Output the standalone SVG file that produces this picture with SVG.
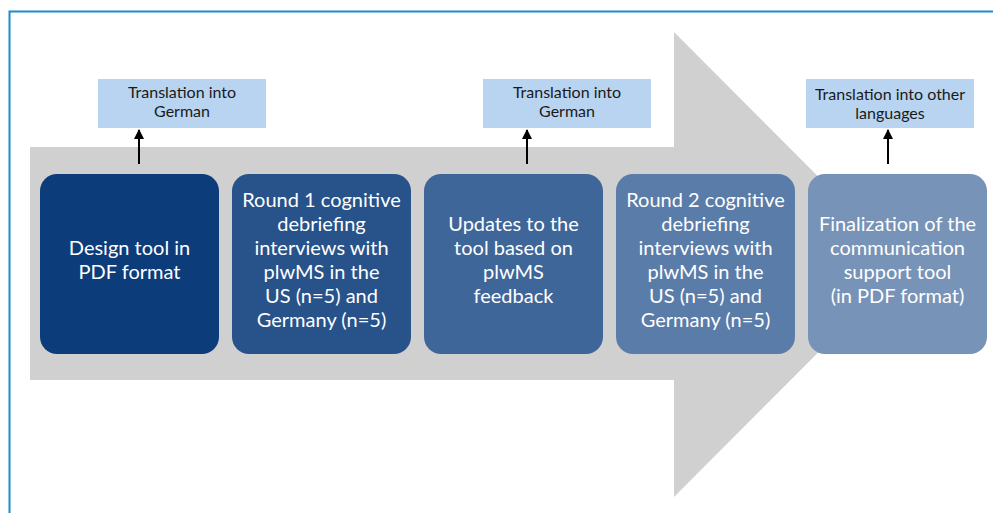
<svg xmlns="http://www.w3.org/2000/svg" width="993" height="513" viewBox="0 0 993 513">
  <defs>
    <marker id="head" viewBox="0 0 10 10" refX="9" refY="5" markerWidth="10" markerHeight="10" markerUnits="userSpaceOnUse" orient="auto">
      <path d="M0,0 L10,5 L0,10 Z" fill="#000"/>
    </marker>
    <style>
      .step { stroke: none; }
      .step-text { font-family: Lato, "Open Sans", sans-serif; font-size: 20px; fill: #ffffff; text-anchor: middle; }
      .note { fill: #b8d4f0; }
      .note-text { font-family: Lato, "Open Sans", sans-serif; font-size: 16px; fill: #1a1a1a; text-anchor: middle; }
      .conn { stroke: #000; stroke-width: 2; fill: none; }
    </style>
  </defs>

  <rect x="0" y="0" width="993" height="513" fill="#ffffff"/>
  <!-- frame -->
  <path d="M9.5,513 L9.5,11.5 L993,11.5" fill="none" stroke="#1f8ac9" stroke-width="2"/>

  <!-- big grey process arrow -->
  <path d="M30,147 L674,147 L674,32 L906,264.5 L674,497 L674,380 L30,380 Z" fill="#d0d0d0"/>

  <g id="step1">
    <rect class="step" x="40" y="174" width="179" height="180" rx="17" fill="#0d3c7b"/>
    <text class="step-text"><tspan x="129.5" y="255">Design tool in</tspan><tspan x="129.5" y="279">PDF format</tspan></text>
  </g>
  <g id="step2">
    <rect class="step" x="232" y="174" width="179" height="180" rx="17" fill="#27528a"/>
    <text class="step-text"><tspan x="321.5" y="207">Round 1 cognitive</tspan><tspan x="321.5" y="231">debriefing</tspan><tspan x="321.5" y="255">interviews with</tspan><tspan x="321.5" y="279">plwMS in the</tspan><tspan x="321.5" y="303">US (n=5) and</tspan><tspan x="321.5" y="327">Germany (n=5)</tspan></text>
  </g>
  <g id="step3">
    <rect class="step" x="424" y="174" width="179" height="180" rx="17" fill="#3f6698"/>
    <text class="step-text"><tspan x="513.5" y="231">Updates to the</tspan><tspan x="513.5" y="255">tool based on</tspan><tspan x="513.5" y="279">plwMS</tspan><tspan x="513.5" y="303">feedback</tspan></text>
  </g>
  <g id="step4">
    <rect class="step" x="616" y="174" width="179" height="180" rx="17" fill="#5a7ca8"/>
    <text class="step-text"><tspan x="705.5" y="207">Round 2 cognitive</tspan><tspan x="705.5" y="231">debriefing</tspan><tspan x="705.5" y="255">interviews with</tspan><tspan x="705.5" y="279">plwMS in the</tspan><tspan x="705.5" y="303">US (n=5) and</tspan><tspan x="705.5" y="327">Germany (n=5)</tspan></text>
  </g>
  <g id="step5">
    <rect class="step" x="808" y="174" width="179" height="180" rx="17" fill="#7793b7"/>
    <text class="step-text"><tspan x="897.5" y="231">Finalization of the</tspan><tspan x="897.5" y="255">communication</tspan><tspan x="897.5" y="279">support tool</tspan><tspan x="897.5" y="303">(in PDF format)</tspan></text>
  </g>

  <g id="note1">
    <rect class="note" x="98" y="79" width="168" height="49"/>
    <text class="note-text"><tspan x="182" y="98">Translation into</tspan><tspan x="182" y="117">German</tspan></text>
  </g>
  <g id="note2">
    <rect class="note" x="483" y="79" width="168" height="49"/>
    <text class="note-text"><tspan x="567" y="98">Translation into</tspan><tspan x="567" y="117">German</tspan></text>
  </g>
  <g id="note3">
    <rect class="note" x="806" y="79" width="168" height="49"/>
    <text class="note-text"><tspan x="890" y="100">Translation into other</tspan><tspan x="890" y="119">languages</tspan></text>
  </g>

  <g id="connectors">
    <line class="conn" x1="139" y1="164" x2="139" y2="130" marker-end="url(#head)"/>
    <line class="conn" x1="527" y1="164" x2="527" y2="130" marker-end="url(#head)"/>
    <line class="conn" x1="888" y1="164" x2="888" y2="130" marker-end="url(#head)"/>
  </g>
</svg>
